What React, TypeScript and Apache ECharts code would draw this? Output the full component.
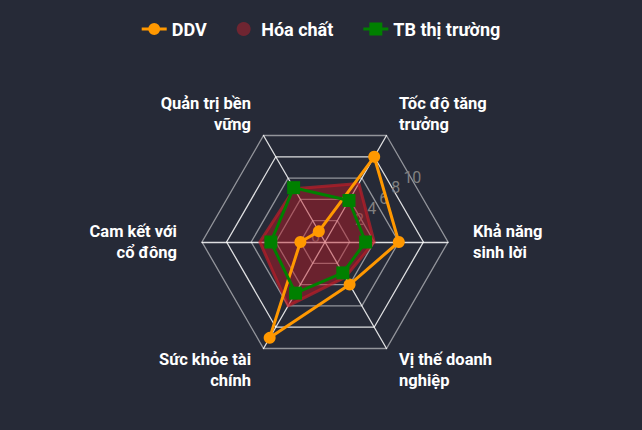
import React, { useEffect, useRef } from "react";
import * as echarts from "echarts";

// Chỉ tiêu (ngược chiều kim đồng hồ, bắt đầu từ góc 60°)
const indicatorNames = [
  "Tốc độ tăng\ntrưởng",
  "Quản trị bền\nvững",
  "Cam kết với\ncổ đông",
  "Sức khỏe tài\nchính",
  "Vị thế doanh\nnghiệp",
  "Khả năng\nsinh lời",
];
const maxValue = 10;

const seriesNames = ["DDV", "Hóa chất", "TB thị trường"];
const ddvValues = [8, 1, 2, 9, 4, 6];
const hoaChatValues = [5.5, 5, 5.3, 6, 3.3, 4];
const tbValues = [3.9, 5.1, 4.4, 4.8, 2.9, 3.3];

// icon chú giải: đường kẻ + điểm đánh dấu
const lineCircleIcon =
  "path://M0,6h25v3h-25z M6.5,7.5A6,6 0 1 1 18.5,7.5A6,6 0 1 1 6.5,7.5Z";
const lineSquareIcon = "path://M0,6h25v3h-25z M6,1h13v13h-13z";

export default function App() {
  const chartRef = useRef<HTMLDivElement>(null);

  useEffect(() => {
    document.body.style.margin = "0";
    if (!chartRef.current) return;
    const chart = echarts.init(chartRef.current, undefined, { renderer: "svg" });

    const option: echarts.EChartsOption = {
      animation: false,
      backgroundColor: "#262a37",
      textStyle: { fontFamily: "Roboto" },
      legend: {
        top: 15,
        itemGap: 30,
        itemWidth: 25,
        itemHeight: 14,
        data: [
          { name: seriesNames[0], icon: lineCircleIcon },
          { name: seriesNames[1], icon: "circle" },
          { name: seriesNames[2], icon: lineSquareIcon },
        ],
        textStyle: { color: "#fff", fontSize: 18, fontWeight: "bold" },
      },
      radar: [
        {
          center: [325, 242],
          radius: 123,
          startAngle: 60,
          splitNumber: 5,
          nameGap: 25,
          axisName: {
            color: "#fff",
            fontSize: 16.5,
            fontWeight: "bold",
            lineHeight: 21,
          },
          indicator: indicatorNames.map((name, i) => ({
            name,
            max: maxValue,
            min: 0,
            axisLabel:
              i === 0
                ? {
                    show: true,
                    color: "#808080",
                    fontSize: 16,
                    margin: 11,
                    align: "center",
                    verticalAlign: "middle",
                    padding: [0, 0, 8, 0],
                    formatter: (v: number) => (v === 0 ? "0" : ""),
                  }
                : { show: false },
          })),
          axisLine: { lineStyle: { color: "rgba(255,255,255,0.85)", width: 1.3 } },
          splitLine: {
            lineStyle: {
              width: 1.3,
              color: [
                "rgba(255,255,255,0.5)",
                "rgba(255,255,255,0.5)",
                "rgba(255,255,255,0.5)",
                "rgba(255,255,255,0.5)",
                "rgba(255,255,255,0.85)",
              ],
            },
          },
          splitArea: { show: false },
        },
        {
          // trục phụ chỉ để hiển thị nhãn giá trị 2..10
          center: [343, 229.5],
          radius: 80,
          startAngle: 41,
          splitNumber: 5,
          silent: true,
          axisName: { show: false },
          indicator: [0, 1, 2].map((i) => ({
            name: "",
            max: maxValue,
            min: 0,
            axisLabel:
              i === 0
                ? {
                    show: true,
                    color: "#808080",
                    fontSize: 16,
                    margin: 0,
                    align: "left",
                    verticalAlign: "middle",
                    formatter: (v: number) => (v === 0 ? "" : String(v)),
                  }
                : { show: false },
          })),
          axisLine: { show: false },
          axisTick: { show: false },
          splitLine: { show: false },
          splitArea: { show: false },
        },
      ],
      series: [
        {
          type: "radar",
          radarIndex: 0,
          data: [
            {
              name: seriesNames[1],
              value: hoaChatValues,
              symbol: "none",
              itemStyle: { color: "#6f2531" },
              lineStyle: { color: "rgba(200,30,40,0.65)", width: 3 },
              areaStyle: { color: "rgba(190,25,35,0.45)", opacity: 1 },
            },
            {
              name: seriesNames[0],
              value: ddvValues,
              symbol: "circle",
              symbolSize: 12,
              itemStyle: { color: "#ff9800" },
              lineStyle: { color: "#ff9800", width: 3 },
            },
            {
              name: seriesNames[2],
              value: tbValues,
              symbol: "rect",
              symbolSize: 13,
              itemStyle: { color: "#008000" },
              lineStyle: { color: "#008000", width: 3 },
            },
          ],
        },
      ],
    };

    chart.setOption(option);
    return () => chart.dispose();
  }, []);

  return <div ref={chartRef} style={{ width: 642, height: 430 }} />;
}
